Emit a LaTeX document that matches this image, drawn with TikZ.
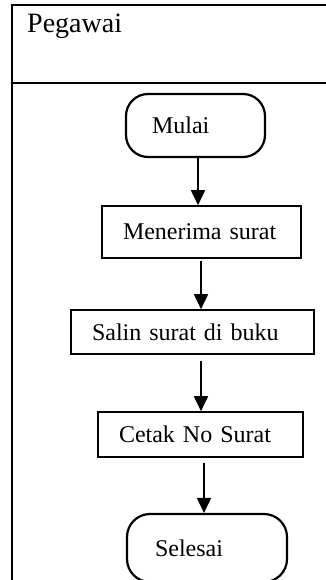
\documentclass[tikz,border=0pt]{standalone}
\usepackage{fontspec}
\setmainfont{Liberation Serif}
\usepackage{tikz}
\usetikzlibrary{arrows.meta,positioning}

\begin{document}
\begin{tikzpicture}[x=1pt,y=-1pt,node distance=100pt,on grid,>={Triangle[length=15pt,width=14pt]}]
  \tikzstyle{proc}=[draw,line width=1.6pt,align=left,inner xsep=21pt,inner ysep=0pt,font=\fontsize{24}{28}\selectfont]
  \tikzstyle{term}=[draw,line width=2.2pt,rounded corners=22pt,align=left,inner ysep=0pt,font=\fontsize{24}{28}\selectfont]
  \tikzstyle{flow}=[->,line width=1.8pt]
  \tikzstyle{frame}=[line width=2.6pt]
  \useasboundingbox (0,0) rectangle (326,580);
  \clip (0,0) rectangle (326,580);
  % swimlane
  \draw[frame] (12,600) -- (12,5) -- (340,5);
  \draw[frame] (12,83) -- (340,83);
  \node[anchor=base west,inner sep=0pt,font=\fontsize{28}{32}\selectfont] (pegawai) at (27,33) {Pegawai};
  % flow
  \node[term,inner xsep=26pt,text width=87pt,minimum height=63pt] (mulai) at (195.5,125.5) {Mulai};
  \node[proc,text width=157pt,minimum height=52pt] (menerima) [below=106.5pt of mulai,xshift=6pt] {Menerima surat};
  \node[proc,text width=201pt,minimum height=44pt] (salin) [below=100pt of menerima,xshift=-9pt] {Salin surat di buku};
  \node[proc,text width=163pt,minimum height=45pt] (cetak) [below=102.5pt of salin,xshift=8pt] {Cetak No Surat};
  \node[term,inner xsep=28pt,text width=104pt,minimum height=68pt,rounded corners=23pt] (selesai) [below=113.5pt of cetak,xshift=6.5pt] {Selesai};
  \draw[flow] ([xshift=2.5pt]mulai.south) -- ([xshift=-3.5pt]menerima.north);
  \draw[flow,shorten <=2pt] ([xshift=-0.5pt]menerima.south) -- ([xshift=8.5pt]salin.north);
  \draw[flow,shorten <=6pt] ([xshift=8.5pt]salin.south) -- ([xshift=0.5pt]cetak.north);
  \draw[flow,shorten <=5pt] ([xshift=3.5pt]cetak.south) -- ([xshift=-3pt]selesai.north);
\end{tikzpicture}
\end{document}
